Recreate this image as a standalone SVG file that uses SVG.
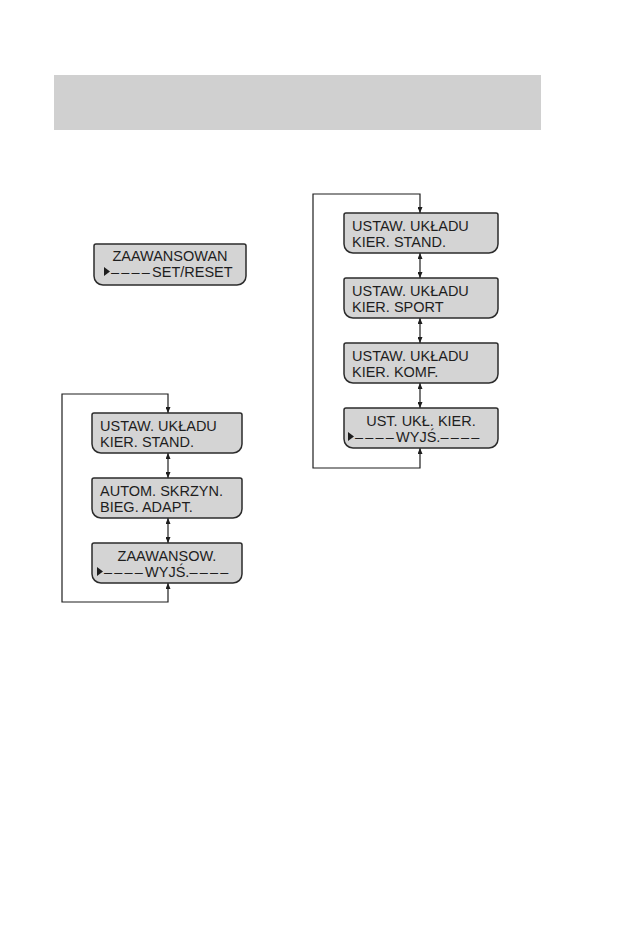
<svg xmlns="http://www.w3.org/2000/svg" width="638" height="935" viewBox="0 0 638 935">
<style>
.box{fill:#d4d4d4;stroke:#2b2b2b;stroke-width:1.5}
.t{font-family:"Liberation Sans",Arial,sans-serif;font-size:14.5px;fill:#1e1e1e}
.c{text-anchor:middle}
.d{letter-spacing:2.2px}
.con{fill:none;stroke:#1e1e1e;stroke-width:1.2;marker-start:url(#ah);marker-end:url(#ah)}
.ptr{fill:#1e1e1e}
</style>
<defs>
<marker id="ah" viewBox="0 0 6 5" refX="6" refY="2.5" markerWidth="6" markerHeight="5" markerUnits="userSpaceOnUse" orient="auto-start-reverse">
<path d="M0,0 L6,2.5 L0,5 Z" fill="#1e1e1e"/>
</marker>
</defs>
<rect id="header" x="54" y="75" width="487" height="55" fill="#d0d0d0"/>

<g id="connectors">
<path class="con" d="M168,453 V478"/>
<path class="con" d="M168,518 V543"/>
<path class="con" d="M168,583 V602 H62 V394 H168 V413"/>
<path class="con" d="M420,253 V278"/>
<path class="con" d="M420,318 V343"/>
<path class="con" d="M420,383 V408"/>
<path class="con" d="M420,448 V468 H313 V194 H420 V213"/>
</g>

<g id="n0">
<path class="box" d="M96,244 H244 A2,2 0 0 1 246,246 V276 A9,9 0 0 1 237,285 H103 A9,9 0 0 1 94,276 V246 A2,2 0 0 1 96,244 Z"/>
<text class="t c" x="170" y="261">ZAAWANSOWAN</text>
<polygon class="ptr" points="104,267 110,271.5 104,276"/>
<text class="t" x="111" y="277"><tspan class="d">––––</tspan>SET/RESET</text>
</g>

<g id="l1">
<path class="box" d="M94,413 H240 A2,2 0 0 1 242,415 V444 A9,9 0 0 1 233,453 H101 A9,9 0 0 1 92,444 V415 A2,2 0 0 1 94,413 Z"/>
<text class="t" x="100" y="431">USTAW. UKŁADU</text>
<text class="t" x="100" y="447">KIER. STAND.</text>
</g>
<g id="l2">
<path class="box" d="M94,478 H240 A2,2 0 0 1 242,480 V509 A9,9 0 0 1 233,518 H101 A9,9 0 0 1 92,509 V480 A2,2 0 0 1 94,478 Z"/>
<text class="t" x="100" y="496">AUTOM. SKRZYN.</text>
<text class="t" x="100" y="512">BIEG. ADAPT.</text>
</g>
<g id="l3">
<path class="box" d="M94,543 H240 A2,2 0 0 1 242,545 V574 A9,9 0 0 1 233,583 H101 A9,9 0 0 1 92,574 V545 A2,2 0 0 1 94,543 Z"/>
<text class="t c" x="167" y="561">ZAAWANSOW.</text>
<polygon class="ptr" points="97,567 103,571.5 97,576"/>
<text class="t" x="104" y="577"><tspan class="d">––––</tspan>WYJŚ.<tspan class="d">––––</tspan></text>
</g>

<g id="r1">
<path class="box" d="M346,213 H496 A2,2 0 0 1 498,215 V244 A9,9 0 0 1 489,253 H353 A9,9 0 0 1 344,244 V215 A2,2 0 0 1 346,213 Z"/>
<text class="t" x="352" y="231">USTAW. UKŁADU</text>
<text class="t" x="352" y="247">KIER. STAND.</text>
</g>
<g id="r2">
<path class="box" d="M346,278 H496 A2,2 0 0 1 498,280 V309 A9,9 0 0 1 489,318 H353 A9,9 0 0 1 344,309 V280 A2,2 0 0 1 346,278 Z"/>
<text class="t" x="352" y="296">USTAW. UKŁADU</text>
<text class="t" x="352" y="312">KIER. SPORT</text>
</g>
<g id="r3">
<path class="box" d="M346,343 H496 A2,2 0 0 1 498,345 V374 A9,9 0 0 1 489,383 H353 A9,9 0 0 1 344,374 V345 A2,2 0 0 1 346,343 Z"/>
<text class="t" x="352" y="361">USTAW. UKŁADU</text>
<text class="t" x="352" y="377">KIER. KOMF.</text>
</g>
<g id="r4">
<path class="box" d="M346,408 H496 A2,2 0 0 1 498,410 V439 A9,9 0 0 1 489,448 H353 A9,9 0 0 1 344,439 V410 A2,2 0 0 1 346,408 Z"/>
<text class="t c" x="421" y="426">UST. UKŁ. KIER.</text>
<polygon class="ptr" points="348,432 354,436.5 348,441"/>
<text class="t" x="355" y="442"><tspan class="d">––––</tspan>WYJŚ.<tspan class="d">––––</tspan></text>
</g>
</svg>
